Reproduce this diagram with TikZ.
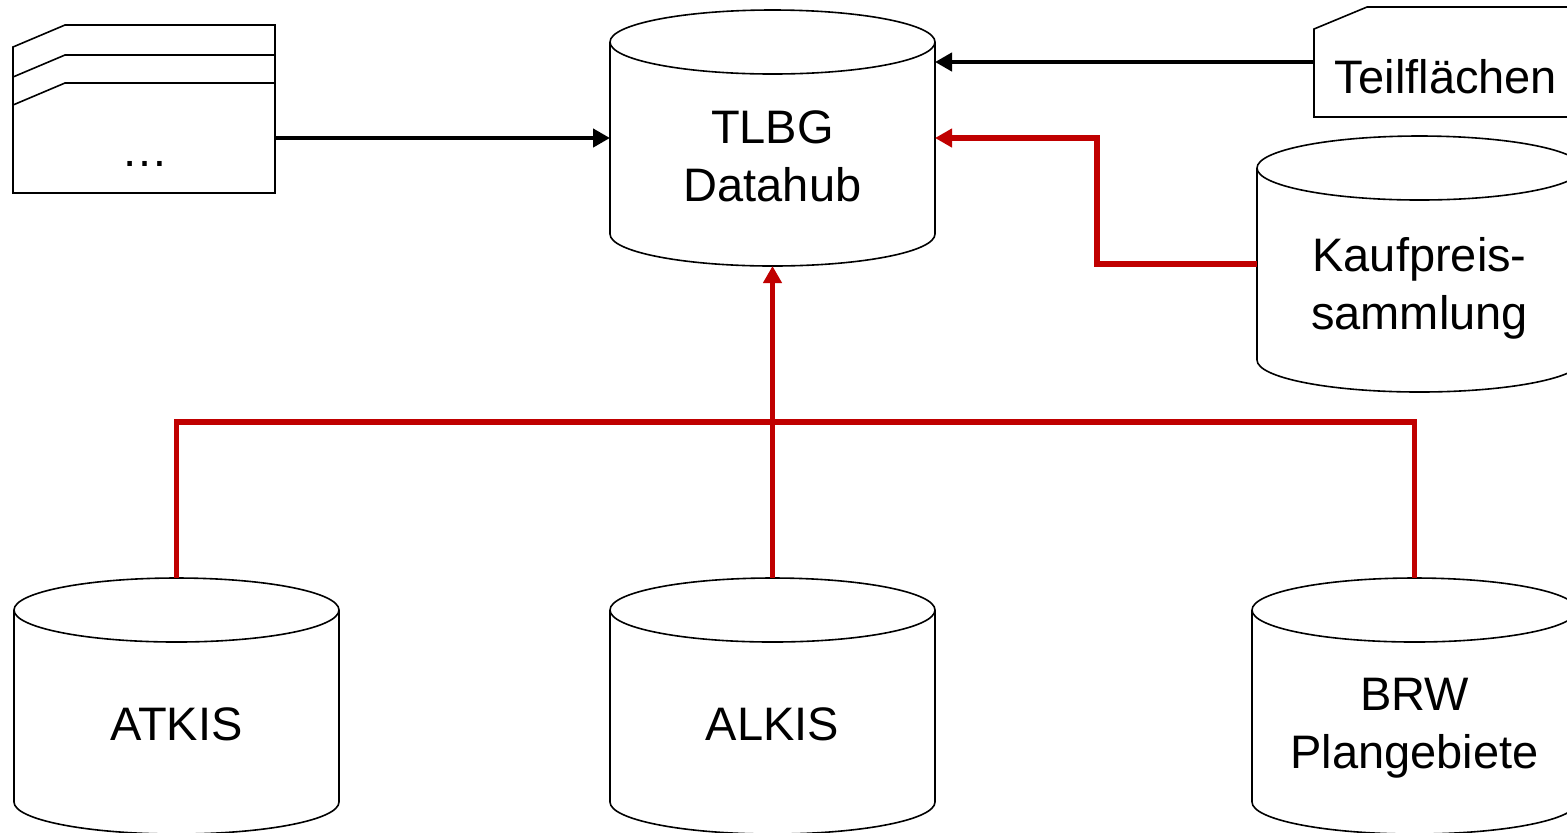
\documentclass[tikz,border=0pt]{standalone}
\usepackage{fontspec}
\setmainfont{Liberation Sans}
\usetikzlibrary{arrows.meta}
\definecolor{dbred}{HTML}{C00000}
\newcommand\cylshape[1]{%
  \draw[cylline] ([yshift=-16pt]#1.north west) -- ([yshift=16pt]#1.south west)
    arc[start angle=180, end angle=0, x radius=162.5, y radius=32]
    -- ([yshift=-16pt]#1.north east)
    arc[start angle=0, end angle=-180, x radius=162.5, y radius=32] -- cycle;
  \draw[cylline] ([yshift=-16pt]#1.north west)
    arc[start angle=180, end angle=0, x radius=162.5, y radius=32];
}
\begin{document}
\begin{tikzpicture}[x=0.5pt,y=-0.5pt,
  cylline/.style={draw=black, line width=0.8pt, fill=white},
  shapeline/.style={draw=black, line width=0.8pt, fill=white, line join=miter},
  dbbox/.style={rectangle, draw=none, inner sep=0pt, outer sep=0pt,
    minimum width=162.5pt, minimum height=128pt},
  docbox/.style={rectangle, draw=none, inner sep=0pt, outer sep=0pt,
    minimum width=131pt, minimum height=55pt},
  cardbox/.style={rectangle, draw=none, inner sep=0pt, outer sep=0pt,
    minimum width=134pt, minimum height=55pt},
  txt/.style={inner sep=0pt, align=center, font=\fontsize{23.5}{29}\selectfont},
  blkarrow/.style={draw=black, line width=2.4pt, -{Triangle[length=8.5pt,width=9pt]}},
  redarrow/.style={draw=dbred, line width=2.6pt, -{Triangle[length=8.5pt,width=9pt]}},
  redline/.style={draw=dbred, line width=2.6pt, line join=miter}
]
\useasboundingbox (0,0) rectangle (1567,832);
\fill[white] (0,0) rectangle (1567,832);

% nodes (bounding boxes of the shapes)
\node[dbbox] (hub) at (772.5,138) {};
\node[dbbox] (kauf) at (1419.5,264) {};
\node[dbbox] (atkis) at (176.5,706) {};
\node[dbbox] (alkis) at (772.5,706) {};
\node[dbbox] (brw) at (1414.5,706) {};
\node[docbox] (doc) at (144,138) {};
\node[cardbox] (tf) at (1448,62) {};

% shapes
\cylshape{hub}
\cylshape{kauf}
\cylshape{atkis}
\cylshape{alkis}
\cylshape{brw}

\draw[shapeline] (13,77) -- (13,47) -- (65,25) -- (275,25) -- (275,55);
\draw[shapeline] (13,105) -- (13,77) -- (65,55) -- (275,55) -- (275,83);
\draw[shapeline] (13,193) -- (13,105) -- (65,83) -- (275,83) -- (275,193) -- cycle;
\draw[shapeline] (1314,117) -- (1314,29) -- (1367,7) -- (1582,7) -- (1582,117) -- cycle;

% texts
\node[txt] (hubtext) at (772.5,156) {TLBG\\Datahub};
\node[txt] (kauftext) at (1419.5,288) {Kaufpreis-\\sammlung};
\node[txt] (atkistext) at (176.5,724) {ATKIS};
\node[txt] (alkistext) at (772.5,724) {ALKIS};
\node[txt] (brwtext) at (1414.5,728) {BRW\\Plangebiete};
\node[txt] (tftext) at (1446,77) {Teilflächen};
\node[txt] (doctext) at (145,164) {…};

% connectors
\draw[blkarrow] (doc.east) -- (hub.west);
\draw[blkarrow] (tf.west) -- (tf.west -| hub.east);
\draw[redarrow] (kauf.west) -- ++(-160,0) |- (hub.east);
\draw[redline] (atkis.north) -- ++(0,-156) -| (brw.north);
\draw[redarrow] (alkis.north) -- (hub.south);
\end{tikzpicture}
\end{document}
